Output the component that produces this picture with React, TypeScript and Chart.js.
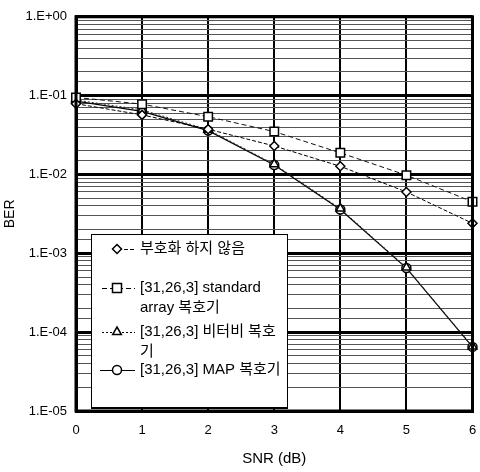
import React, { useEffect, useRef } from 'react';
import { Chart, registerables } from 'chart.js';

Chart.register(...registerables);

// ---- data ----
const snrDb = [0, 1, 2, 3, 4, 5, 6];
const uncoded = [0.079, 0.057, 0.0375, 0.023, 0.0127, 0.006, 0.0024];
const standardArray = [0.095, 0.078, 0.054, 0.035, 0.0188, 0.0098, 0.0045];
const viterbi = [0.088, 0.066, 0.037, 0.0135, 0.0037, 0.00066, 0.000066];
const mapDecoder = [0.085, 0.063, 0.036, 0.0132, 0.0036, 0.00065, 0.000065];

const seriesLabels = [
  '부호화 하지 않음',
  '[31,26,3] standard array 복호기',
  '[31,26,3] 비터비 복호기',
  '[31,26,3] MAP 복호기',
];
const legendLines = [
  ['부호화 하지 않음'],
  ['[31,26,3] standard', 'array 복호기'],
  ['[31,26,3] 비터비 복호', '기'],
  ['[31,26,3] MAP 복호기'],
];
const xTitle = 'SNR (dB)';
const yTitle = 'BER';
const xMin = 0;
const xMax = 6;
const yMin = 1e-5;
const yMax = 1;

const FONT = '"Liberation Sans", Arial, "Noto Sans CJK KR", sans-serif';

function drawMarker(ctx: CanvasRenderingContext2D, style: string, x: number, y: number) {
  ctx.save();
  ctx.setLineDash([]);
  ctx.fillStyle = '#fff';
  ctx.strokeStyle = '#000';
  ctx.lineWidth = 1.5;
  ctx.beginPath();
  if (style === 'rectRot') {
    const r = 4.5;
    ctx.moveTo(x, y - r);
    ctx.lineTo(x + r, y);
    ctx.lineTo(x, y + r);
    ctx.lineTo(x - r, y);
    ctx.closePath();
  } else if (style === 'rect') {
    const s = 4.5;
    ctx.rect(x - s, y - s, 2 * s, 2 * s);
  } else if (style === 'triangle') {
    const r = 5;
    ctx.moveTo(x, y - r);
    ctx.lineTo(x + r * 0.87, y + r * 0.5);
    ctx.lineTo(x - r * 0.87, y + r * 0.5);
    ctx.closePath();
  } else {
    ctx.arc(x, y, 4.5, 0, Math.PI * 2);
  }
  ctx.fill();
  ctx.stroke();
  ctx.restore();
}

const legendPlugin = {
  id: 'customLegend',
  afterDraw(chart: any) {
    const ctx: CanvasRenderingContext2D = chart.ctx;
    ctx.save();
    const bx = 91, by = 234, bw = 196, bh = 173;
    ctx.fillStyle = '#fff';
    ctx.fillRect(bx, by, bw, bh);
    ctx.strokeStyle = '#000';
    ctx.lineWidth = 1;
    ctx.strokeRect(bx + 0.5, by + 0.5, bw, bh);
    ctx.lineWidth = 2;
    ctx.beginPath();
    ctx.moveTo(bx, by + bh + 1);
    ctx.lineTo(bx + bw + 1, by + bh + 1);
    ctx.stroke();

    const rowY = [[249], [288, 308], [332, 352], [370]];
    const lineStart = [118, 102, 102, 100];
    ctx.font = '15px ' + FONT;
    ctx.textBaseline = 'middle';
    chart.data.datasets.forEach((ds: any, i: number) => {
      const y = rowY[i][0];
      ctx.save();
      ctx.strokeStyle = '#000';
      ctx.lineWidth = 1;
      ctx.setLineDash(ds.borderDash || []);
      ctx.beginPath();
      ctx.moveTo(lineStart[i], y + 0.5);
      ctx.lineTo(135, y + 0.5);
      ctx.stroke();
      ctx.restore();
      drawMarker(ctx, ds.pointStyle, 117, y);
      ctx.fillStyle = '#000';
      legendLines[i].forEach((t, k) => {
        ctx.fillText(t, 140, rowY[i][k] !== undefined ? rowY[i][k] : y + 20 * k);
      });
    });
    ctx.restore();
  },
};

const framePlugin = {
  id: 'frame',
  afterDatasetsDraw(chart: any) {
    const { ctx, chartArea } = chart;
    ctx.save();
    ctx.strokeStyle = '#000';
    ctx.lineWidth = 3;
    ctx.strokeRect(chartArea.left, chartArea.top, chartArea.right - chartArea.left, chartArea.bottom - chartArea.top);
    ctx.restore();
  },
};

function isDecade(v: number) {
  const l = Math.log10(v);
  return Math.abs(l - Math.round(l)) < 1e-6;
}

export default function App() {
  const canvasRef = useRef<HTMLCanvasElement | null>(null);

  useEffect(() => {
    if (!canvasRef.current) return;
    const mk = (vals: number[]) => snrDb.map((x, i) => ({ x, y: vals[i] }));
    const chart = new Chart(canvasRef.current, {
      type: 'line',
      data: {
        datasets: [
          {
            label: seriesLabels[0],
            data: mk(uncoded),
            borderColor: '#000',
            borderWidth: 1,
            borderDash: [4, 2],
            pointStyle: 'rectRot',
            pointRadius: 4.5,
            pointBackgroundColor: '#fff',
            pointBorderColor: '#000',
            pointBorderWidth: 1.5,
            clip: false,
          },
          {
            label: seriesLabels[1],
            data: mk(standardArray),
            borderColor: '#111',
            borderWidth: 1,
            borderDash: [5, 3],
            pointStyle: 'rect',
            pointRadius: 6,
            pointBackgroundColor: '#fff',
            pointBorderColor: '#000',
            pointBorderWidth: 1.5,
            clip: false,
          },
          {
            label: seriesLabels[2],
            data: mk(viterbi),
            borderColor: '#333',
            borderWidth: 1,
            borderDash: [2, 2],
            pointStyle: 'triangle',
            pointRadius: 5,
            pointBackgroundColor: '#fff',
            pointBorderColor: '#000',
            pointBorderWidth: 1.5,
            clip: false,
          },
          {
            label: seriesLabels[3],
            data: mk(mapDecoder),
            borderColor: '#000',
            borderWidth: 1.2,
            pointStyle: 'circle',
            pointRadius: 4.5,
            pointBackgroundColor: '#fff',
            pointBorderColor: '#000',
            pointBorderWidth: 1.5,
            clip: false,
          },
        ] as any,
      },
      options: {
        animation: false,
        responsive: false,
        maintainAspectRatio: false,
        layout: { padding: { top: 12, right: 3, left: 0, bottom: 0 } },
        plugins: {
          legend: { display: false },
          tooltip: { enabled: false },
        },
        scales: {
          x: {
            type: 'linear',
            min: xMin,
            max: xMax,
            ticks: {
              stepSize: 1,
              padding: 12,
              color: '#000',
              font: { family: FONT, size: 13 },
              maxRotation: 0,
            },
            grid: { color: '#000', lineWidth: 2, drawTicks: false },
            border: { display: true, color: '#000', width: 3 },
            title: {
              display: true,
              text: xTitle,
              color: '#000',
              font: { family: FONT, size: 15 },
              padding: { top: 0, bottom: 4 },
            },
            afterFit: (s: any) => {
              s.height = 61;
              s.paddingLeft = 0;
              s.paddingRight = 0;
            },
          },
          y: {
            type: 'logarithmic',
            min: yMin,
            max: yMax,
            ticks: {
              autoSkip: false,
              padding: 9,
              color: '#000',
              font: { family: FONT, size: 13 },
              callback: (v: any) => {
                const n = Number(v);
                if (!isDecade(n)) return '';
                const e = Math.round(Math.log10(n));
                const a = Math.abs(e);
                return '1.E' + (e >= 0 ? '+' : '-') + (a < 10 ? '0' + a : String(a));
              },
            },
            grid: {
              drawTicks: false,
              color: (c: any) => (c.tick && isDecade(c.tick.value) ? '#000' : '#555'),
              lineWidth: (c: any) => (c.tick && isDecade(c.tick.value) ? 3 : 1),
            },
            border: { display: true, color: '#000', width: 3 },
            title: {
              display: true,
              text: yTitle,
              color: '#000',
              font: { family: FONT, size: 14 },
              padding: { top: 2, bottom: 0 },
            },
            afterFit: (s: any) => {
              s.width = 76;
            },
          },
        },
      } as any,
      plugins: [framePlugin, legendPlugin],
    });
    return () => chart.destroy();
  }, []);

  return (
    <div style={{ position: 'absolute', left: 0, top: 0, width: 480, height: 472, background: '#fff' }}>
      <canvas ref={canvasRef} width={480} height={472} style={{ width: 480, height: 472 }} />
    </div>
  );
}
